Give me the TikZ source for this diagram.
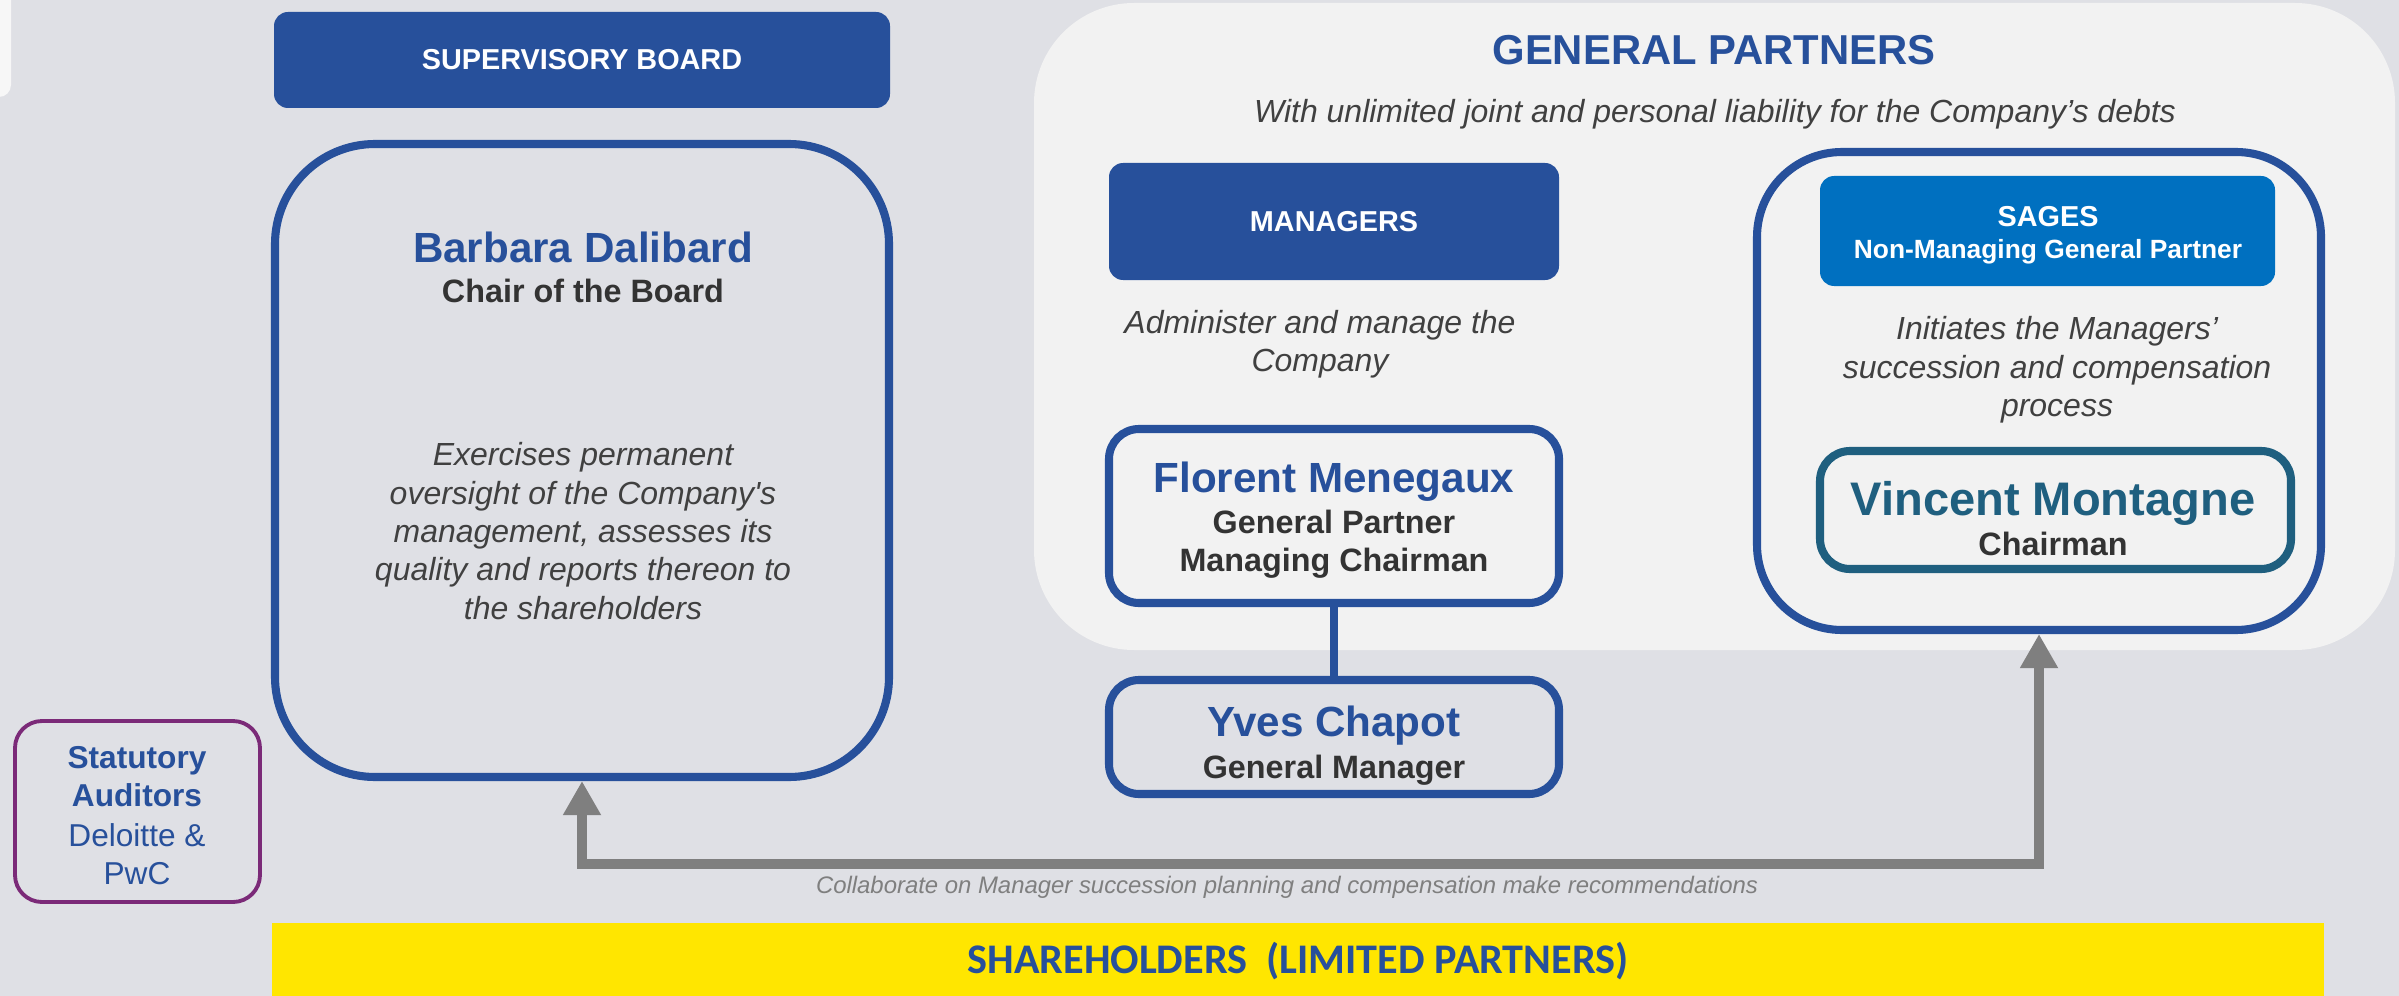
\documentclass[tikz,border=0pt]{standalone}
\usepackage{fontspec}
\setmainfont{Liberation Sans}[Ligatures=TeXOff]
\newfontfamily\shfont{Carlito}
\usetikzlibrary{arrows.meta, positioning}
\definecolor{mblue}{HTML}{27509B}
\definecolor{sblue}{HTML}{0070C0}
\definecolor{tealb}{HTML}{1F5F7F}
\definecolor{dgray}{HTML}{333333}
\definecolor{igray}{HTML}{404040}
\definecolor{agray}{HTML}{7F7F7F}
\definecolor{bgcol}{HTML}{DFE0E5}
\definecolor{panelcol}{HTML}{F2F2F2}
\definecolor{yel}{HTML}{FFE600}
\definecolor{purp}{HTML}{7B2A78}

\begin{document}
\begin{tikzpicture}[
            hdr/.style={fill=mblue, rounded corners=0.14cm, text=white, inner sep=0pt,
                font=\fontsize{8.2}{10}\selectfont\bfseries},
            pbox/.style={draw=mblue, line width=2.3pt, rounded corners=#1, inner sep=0pt},
            pbox/.default=0.3cm,
            pname/.style={text=mblue, inner sep=0pt, font=\fontsize{12}{14}\selectfont\bfseries},
            prole/.style={text=dgray, inner sep=0pt, align=center, font=\fontsize{9.2}{10.8}\selectfont\bfseries},
            desc/.style={text=igray, inner sep=0pt, align=center, font=\fontsize{9.1}{10.9}\selectfont\itshape},
            garrow/.style={draw=agray, line width=3.1pt,
                {Triangle[width=10.2pt,length=9.7pt]}-{Triangle[width=10.2pt,length=9.7pt]}}
        ]
        \useasboundingbox (0,0) rectangle (23.99,-9.96);
        \fill[bgcol] (0,0) rectangle (23.99,-9.96);
        \fill[panelcol!60!white, rounded corners=0.12cm] (-0.4,0.4) rectangle (0.11,-0.97);

        % --- Supervisory board ---
        \node[hdr, minimum width=6.16cm, minimum height=0.96cm] (sbh) at (5.82,-0.60) {SUPERVISORY BOARD};
        \node[pbox=1cm, minimum width=6.14cm, minimum height=6.33cm] (bar) at (5.82,-4.605) {};
        \node[pname] (barn) at (5.83,-2.47) {Barbara Dalibard};
        \node[prole] (barr) at (5.83,-2.91) {Chair of the Board};
        \node[desc] (bard) at (5.83,-5.31) {Exercises permanent\\oversight of the Company's\\management, assesses its\\quality and reports thereon to\\the shareholders};

        % --- General partners ---
        \node[fill=panelcol, rounded corners=1cm, minimum width=13.61cm, minimum height=6.47cm] (gp) at (17.145,-3.265) {};
        \node[text=mblue, font=\fontsize{11.9}{14}\selectfont\bfseries] (gpt) at (17.14,-0.50) {GENERAL PARTNERS};
        \node[desc] (gps) at (17.15,-1.14) {With unlimited joint and personal liability for the Company’s debts};

        \node[hdr, minimum width=4.50cm, minimum height=1.17cm] (mgr) at (13.34,-2.215) {MANAGERS};
        \node[desc] (mgrd) at (13.20,-3.44) {Administer and manage the\\Company};
        \node[pbox, fill=panelcol, minimum width=4.50cm, minimum height=1.74cm] (fm) at (13.34,-5.16) {};
        \node[pname] (fmn) at (13.34,-4.82) {Florent Menegaux};
        \node[prole] (fmr) at (13.34,-5.44) {General Partner\\Managing Chairman};
        \node[pbox, minimum width=4.50cm, minimum height=1.14cm] (yc) at (13.34,-7.37) {};
        \node[pname] (ycn) at (13.34,-7.26) {Yves Chapot};
        \node[prole] (ycr) at (13.34,-7.70) {General Manager};
        \draw[mblue, line width=2.3pt] (fm) -- (yc);

        \node[pbox=0.85cm, minimum width=5.64cm, minimum height=4.78cm] (sg) at (20.39,-3.91) {};
        \node[hdr, fill=sblue, minimum width=4.55cm, minimum height=1.10cm] (sgh) at (20.475,-2.31) {};
        \node[text=white, inner sep=0pt, font=\fontsize{8.2}{10}\selectfont\bfseries] (sgt) at (20.48,-2.17) {SAGES};
        \node[text=white, inner sep=0pt, font=\fontsize{7.5}{9}\selectfont\bfseries] (sgs) at (20.48,-2.52) {Non-Managing General Partner};
        \node[desc] (sgd) at (20.57,-3.70) {Initiates the Managers’\\succession and compensation\\process};
        \node[pbox, draw=tealb, minimum width=4.71cm, minimum height=1.18cm] (vm) at (20.555,-5.10) {};
        \node[pname, text=tealb, font=\fontsize{13.4}{15}\selectfont\bfseries] (vmn) at (20.53,-5.03) {Vincent Montagne};
        \node[prole] (vmr) at (20.53,-5.44) {Chairman};

        % --- Auditors and shareholders ---
        \node[draw=purp, line width=1.1pt, rounded corners=0.27cm, minimum width=2.45cm, minimum height=1.81cm] (sa) at (1.375,-8.115) {};
        \node[text=mblue, align=center, inner sep=0pt, font=\fontsize{9}{10.8}\selectfont\bfseries] (sat) at (1.37,-7.77) {Statutory\\Auditors};
        \node[text=mblue, align=center, inner sep=0pt, font=\fontsize{9}{10.8}\selectfont] (sad) at (1.37,-8.54) {Deloitte \&\\PwC};

        \coordinate (low) at (12,-8.64);
        \draw[garrow] (bar.south) |- (low) -| (sg.south);
        \node[text=agray, inner sep=0pt, font=\fontsize{6.8}{8}\selectfont\itshape] (col) at (12.87,-8.87) {Collaborate on Manager succession planning and compensation make recommendations};

        \node[fill=yel, text=mblue, minimum width=20.52cm, minimum height=0.77cm, font=\shfont\fontsize{12}{14}\selectfont\bfseries] (sh) at (12.98,-9.615) {SHAREHOLDERS~~(LIMITED PARTNERS)};
        \end{tikzpicture}
\end{document}
